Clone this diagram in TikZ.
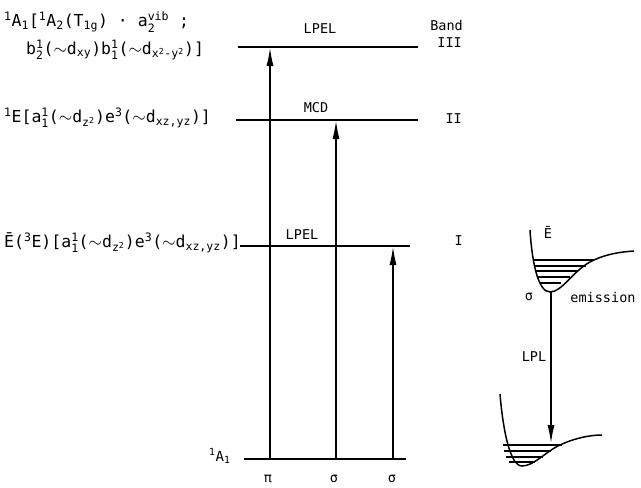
\documentclass[tikz,border=0pt]{standalone}
\usepackage{amsmath}
\usepackage{fontspec}
\setmainfont{DejaVu Sans Mono}
\usetikzlibrary{arrows.meta}
\newcommand\sps[1]{\(^{\text{#1}}\)}
\newcommand\sbs[1]{\(_{\text{#1}}\)}
\newcommand\sbp[2]{\(^{\text{#2}}_{\text{#1}}\)}
\newcommand\tld{\(\sim\)}
\tikzset{
  level/.style={line width=2.4pt},
  trans/.style={line width=1.1pt,-{Latex[length=18pt,width=7pt]}},
  lbl/.style={inner sep=0pt,font=\fontsize{13.5}{15}\selectfont},
  bandlbl/.style={inner sep=0pt,anchor=east,font=\fontsize{13.5}{15}\selectfont},
  state/.style={inner sep=0pt,anchor=west,font=\fontsize{16.5}{18}\selectfont},
  well/.style={line width=1.5pt},
  vib/.style={line width=1.2pt}
}
\begin{document}
\begin{tikzpicture}[x=1pt,y=-1pt]
\useasboundingbox (0,0) rectangle (641,488);
% levels
\draw[level] (238,47) coordinate (IIIl) -- (418,47) coordinate (IIIr);
\draw[level] (236,120) coordinate (IIl) -- (418,120) coordinate (IIr);
\draw[level] (240,246) coordinate (Il) -- (410,246) coordinate (Ir);
\draw[level] (244,459) coordinate (Gl) -- (406,459) coordinate (Gr);
% transition endpoints
\coordinate (p0) at (270,459); \coordinate (p1) at (270,48);
\coordinate (s0) at (336,459); \coordinate (s1) at (336,121);
\coordinate (t0) at (393,459); \coordinate (t1) at (393,247);
\draw[trans] (p0) -- (p1);
\draw[trans] (s0) -- (s1);
\draw[trans] (t0) -- (t1);
% level labels
\node[lbl] (lpel3) at (320,29) {LPEL};
\node[bandlbl] (band) at (463,25) {Band};
\node[bandlbl] (b3) at (462,43) {III};
\node[lbl] (mcd) at (316,108) {MCD};
\node[bandlbl] (b2) at (462,119) {II};
\node[lbl] (lpel1) at (302,235) {LPEL};
\node[bandlbl] (b1) at (463,241) {I};
\node[lbl] (pi) at (268,479) {π};
\node[lbl] (sg1) at (334,479) {σ};
\node[lbl] (sg2) at (392,479) {σ};
\node[state,font=\fontsize{14}{16}\selectfont] (ga) at (209,456) {\sps{1}A\sbs{1}};
% state labels
\node[state] (st3a) at (4,22) {\sps{1}A\sbs{1}[\sps{1}A\sbs{2}(T\sbs{1g}) · a\sbp{2}{vib} ;};
\node[state] (st3b) at (26,50) {b\sbp{2}{1}(\tld d\sbs{xy})b\sbp{1}{1}(\tld d\(_{\text{x}^{\text{2}}\text{-y}^{\text{2}}}\))]};
\node[state] (st2) at (4,118) {\sps{1}E[a\sbp{1}{1}(\tld d\(_{\text{z}^{\text{2}}}\))e\sps{3}(\tld d\sbs{xz,yz})]};
\node[state] (st1) at (4,243) {Ē(\sps{3}E)[a\sbp{1}{1}(\tld d\(_{\text{z}^{\text{2}}}\))e\sps{3}(\tld d\sbs{xz,yz})]};
% upper potential well
\draw[well] (530,230) .. controls (532,262) and (538,292) .. (550,292)
  .. controls (562,292) and (572,272) .. (590,262)
  .. controls (605,254) and (620,252) .. (634,251);
\foreach \yy/\xa/\xb in {260/533/594, 266/534/586, 271/535/578, 277/537/570, 283/540/561}
  \draw[vib] (\xa,\yy) -- (\xb,\yy);
% lower potential well
\draw[well] (500,394) .. controls (503,430) and (510,466) .. (522,466)
  .. controls (534,466) and (545,452) .. (560,445)
  .. controls (575,438) and (590,435) .. (602,435);
\foreach \yy/\xa/\xb in {445/503/562, 451/504/551, 457/506/543, 462/509/535}
  \draw[vib] (\xa,\yy) -- (\xb,\yy);
\coordinate (e0) at (551,292); \coordinate (e1) at (551,443);
\draw[trans] (e0) -- (e1);
\node[lbl] (ebar) at (548,232) {Ē};
\node[lbl] (sg3) at (529,297) {σ};
\node[lbl] (emis) at (603,297) {emission};
\node[lbl] (lpl) at (534,357) {LPL};
\end{tikzpicture}
\end{document}
